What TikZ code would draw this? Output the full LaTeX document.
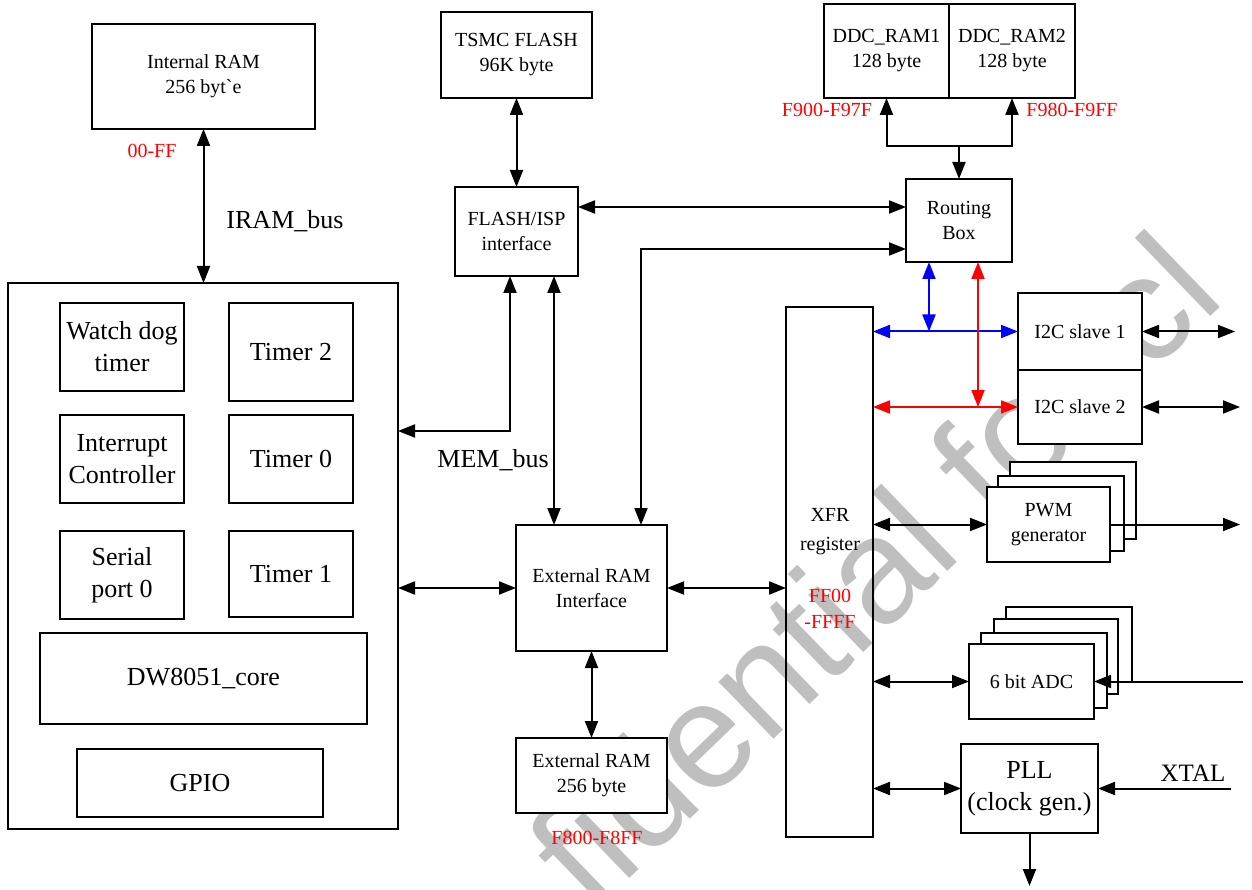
\documentclass[tikz,border=0pt]{standalone}
\usepackage{fontspec}
\setmainfont{Liberation Serif}
\newfontfamily\wmfont{Liberation Sans}
\usetikzlibrary{arrows.meta}
\tikzset{
  box/.style={draw, line width=2pt, fill=white, inner sep=0pt, outer sep=0pt,
    align=center, anchor=north west, font={\fontsize{20}{25}\selectfont}},
  bigbox/.style={box, font={\fontsize{26}{32}\selectfont}},
  lbl/.style={inner sep=0pt, align=center, font={\fontsize{20}{25}\selectfont}},
  biglbl/.style={inner sep=0pt, align=center, font={\fontsize{26}{32}\selectfont}},
  redlbl/.style={lbl, text=red},
  tip/.tip={Triangle[length=17pt,width=13pt]},
  conn/.style={line width=2pt, tip-tip},
  arr/.style={line width=2pt, -tip},
  wm/.style={inner sep=0pt, text=gray!50, font={\wmfont\fontsize{150}{150}\selectfont}}
}
\begin{document}
\begin{tikzpicture}[x=1pt,y=-1pt]
\useasboundingbox (0,0) rectangle (1252,890);
\begin{scope}
\clip (0,0) rectangle (1252,890);
\node[wm, anchor=base east, rotate=44] (wmark) at (1228,300) {fidential for cl};
\end{scope}

% left CPU block
\node[box, minimum width=390pt, minimum height=546pt] (cpu) at (8,283) {};
\node[bigbox, minimum width=124pt, minimum height=88pt] (wdt) at (60,303) {Watch dog\\timer};
\node[bigbox, minimum width=124pt, minimum height=98pt] (t2) at (229,303) {Timer 2};
\node[bigbox, minimum width=124pt, minimum height=88pt] (intc) at (60,415) {Interrupt\\Controller};
\node[bigbox, minimum width=124pt, minimum height=88pt] (t0) at (229,415) {Timer 0};
\node[bigbox, minimum width=124pt, minimum height=88pt] (ser) at (60,531) {Serial\\port 0};
\node[bigbox, minimum width=124pt, minimum height=86pt] (t1) at (229,531) {Timer 1};
\node[bigbox, minimum width=327pt, minimum height=91pt] (core) at (40,633) {DW8051\_core};
\node[bigbox, minimum width=246pt, minimum height=68pt] (gpio) at (77,749) {GPIO};

% memories and interfaces
\node[box, minimum width=223pt, minimum height=105pt] (iram) at (92,24) {Internal RAM\\256 byt\textasciigrave e};
\node[box, minimum width=151pt, minimum height=86pt] (tsmc) at (441,12) {TSMC FLASH\\96K byte};
\node[box, minimum width=123pt, minimum height=89pt] (flash) at (455,187) {FLASH/ISP\\interface};
\node[box, minimum width=125pt, minimum height=94pt] (ddc1) at (824,4) {DDC\_RAM1\\128 byte};
\node[box, minimum width=126pt, minimum height=94pt] (ddc2) at (949,4) {DDC\_RAM2\\128 byte};
\node[box, minimum width=106pt, minimum height=83pt] (route) at (906,179) {Routing\\Box};
\node[box, minimum width=151pt, minimum height=126pt] (extif) at (516,525) {External RAM\\Interface};
\node[box, minimum width=151pt, minimum height=75pt] (extram) at (516,738) {External RAM\\256 byte};
\node[box, fill=none, minimum width=87pt, minimum height=530pt] (xfr) at (786,307) {};
\node[lbl, font={\fontsize{20}{29}\selectfont}] (xfrtxt) at (830,532) {XFR\\register};
\node[redlbl, font={\fontsize{20}{26}\selectfont}] (xfraddr) at (830,609) {FF00\\-FFFF};

% peripherals
\node[box, minimum width=124pt, minimum height=77pt] (i2c1) at (1018,293) {I2C slave 1};
\node[box, minimum width=124pt, minimum height=74pt] (i2c2) at (1018,370) {I2C slave 2};
\node[box, minimum width=126pt, minimum height=77pt] (pwm3) at (1010,462) {};
\node[box, minimum width=126pt, minimum height=75pt] (pwm2) at (998,476) {};
\node[box, minimum width=123pt, minimum height=75pt] (pwm) at (987,487) {PWM\\generator};
\node[box, minimum width=126pt, minimum height=75pt] (adc4) at (1006,607) {};
\node[box, minimum width=124pt, minimum height=75pt] (adc3) at (994,619) {};
\node[box, minimum width=126pt, minimum height=75pt] (adc2) at (981,633) {};
\node[box, minimum width=125pt, minimum height=75pt] (adc) at (969,644) {6 bit ADC};
\node[bigbox, minimum width=137pt, minimum height=89pt] (pll) at (961,744) {PLL\\(clock gen.)};

% labels
\node[redlbl] (a00) at (152,151) {00-FF};
\node[biglbl] (iramlbl) at (285,221) {IRAM\_bus};
\node[biglbl] (memlbl) at (493,460) {MEM\_bus};
\node[redlbl] (a900) at (827,110) {F900-F97F};
\node[redlbl] (a980) at (1072,110) {F980-F9FF};
\node[redlbl] (a800) at (597,838) {F800-F8FF};
\node[biglbl, font={\fontsize{25}{30}\selectfont}] (xtal) at (1193,773) {XTAL};

% helper coordinates
\coordinate (fr) at (0,207);
\coordinate (rb) at (641,249);
\coordinate (mb) at (510,431);
\coordinate (fe) at (554,0);
\coordinate (dj) at (959,146);
\coordinate (bx) at (929,0);
\coordinate (rx) at (978,0);
\coordinate (r1) at (1235,0);
\coordinate (r2) at (1240,0);
\coordinate (ain) at (1243,681.5);
\coordinate (xt) at (1231,788.5);
\coordinate (po) at (0,886);

% connectors
\draw[conn] (iram.south) -- (iram.south |- cpu.north);
\draw[conn] (tsmc.south) -- (flash.north);
\draw[conn] (flash.east |- fr) -- (route.west |- fr);
\draw[conn] (extif.north -| rb) -- (rb) -- (route.west |- rb);
\draw[conn] (flash.south -| mb) -- (mb) -- (cpu.east |- mb);
\draw[conn] (flash.south -| fe) -- (extif.north -| fe);
\draw[conn] (cpu.east |- extif.west) -- (extif.west);
\draw[conn] (extif.east) -- (xfr.west |- extif.east);
\draw[conn] (extif.south) -- (extram.north);
\draw[arr] (dj) -- (route.north);
\draw[arr] (dj) -| (ddc1.south);
\draw[arr] (dj) -| (ddc2.south);
\draw[conn, blue] (route.south -| bx) -- (bx |- i2c1.west);
\draw[conn, blue] (xfr.east |- i2c1.west) -- (i2c1.west);
\draw[conn, red] (route.south -| rx) -- (rx |- i2c2.west);
\draw[conn, red] (xfr.east |- i2c2.west) -- (i2c2.west);
\draw[conn] (i2c1.east) -- (i2c1.east -| r1);
\draw[conn] (i2c2.east) -- (i2c2.east -| r2);
\draw[conn] (xfr.east |- pwm.west) -- (pwm.west);
\draw[arr] (pwm.east) -- (pwm.east -| r2);
\draw[conn] (xfr.east |- adc.west) -- (adc.west);
\draw[arr] (ain) -- (adc.east);
\draw[conn] (xfr.east |- pll.west) -- (pll.west);
\draw[arr] (xt) -- (pll.east);
\draw[arr] (pll.south) -- (pll.south |- po);
\end{tikzpicture}
\end{document}
